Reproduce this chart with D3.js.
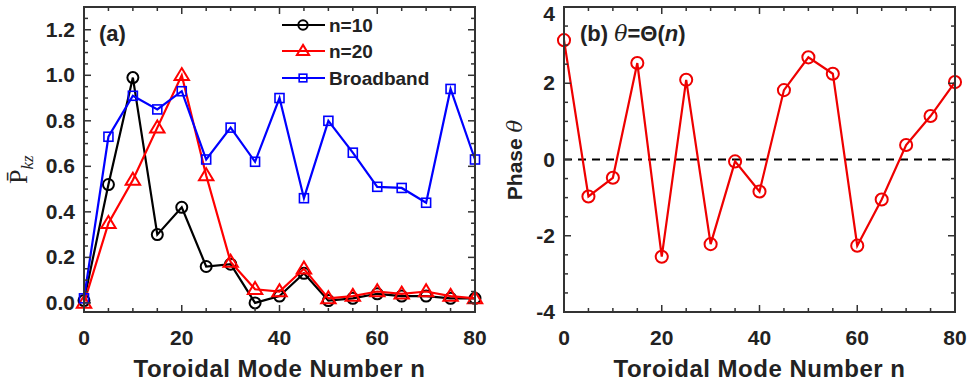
<!DOCTYPE html>
<html>
<head>
<meta charset="utf-8">
<script src="https://cdn.jsdelivr.net/npm/d3@7"></script>
<style>
  body { margin: 0; background: #fff; }
  svg { display: block; }
  text { font-family: "Liberation Sans", Arial, sans-serif; font-weight: bold; fill: #222; }
</style>
</head>
<body>
<div id="chart"></div>
<script>
// toroidal mode numbers
var modeN = [0, 5, 10, 15, 20, 25, 30, 35, 40, 45, 50, 55, 60, 65, 70, 75, 80];

// panel (a) normalised power
var pN10 = [0.01, 0.52, 0.99, 0.30, 0.42, 0.16, 0.17, 0.00, 0.03, 0.13, 0.01, 0.02, 0.04, 0.03, 0.03, 0.02, 0.02];
var pN20 = [0.00, 0.35, 0.54, 0.77, 1.00, 0.56, 0.18, 0.06, 0.05, 0.15, 0.02, 0.03, 0.05, 0.04, 0.05, 0.03, 0.02];
var pBroad = [0.02, 0.73, 0.91, 0.85, 0.93, 0.63, 0.77, 0.62, 0.90, 0.46, 0.80, 0.66, 0.51, 0.505, 0.44, 0.94, 0.63];

// panel (b) phase
var phase = [3.13, -0.97, -0.48, 2.53, -2.55, 2.09, -2.22, -0.05, -0.84, 1.82, 2.68, 2.25, -2.26, -1.05, 0.38, 1.14, 2.03];

var xTicks = [0, 20, 40, 60, 80];
var yTicksA = [0, 0.2, 0.4, 0.6, 0.8, 1.0, 1.2];
var yTicksB = [-4, -2, 0, 2, 4];

var width = 969, height = 390;
var axisColor = "#333";

var svg = d3.select("#chart").append("svg")
    .attr("width", width)
    .attr("height", height);

function drawFrame(g, x, y, yTicks, yMinor, yFmt) {
    var x0 = x.range()[0], x1 = x.range()[1],
        y0 = y.range()[0], y1 = y.range()[1];
    var xMinor = d3.range(0, 81, 5);

    // tick marks, inside, mirrored on all sides
    xMinor.forEach(function(v) {
        var len = xTicks.indexOf(v) >= 0 ? 7 : 4;
        g.append("line").attr("x1", x(v)).attr("x2", x(v)).attr("y1", y0).attr("y2", y0 - len)
            .attr("stroke", axisColor).attr("stroke-width", 1.5);
        g.append("line").attr("x1", x(v)).attr("x2", x(v)).attr("y1", y1).attr("y2", y1 + len)
            .attr("stroke", axisColor).attr("stroke-width", 1.5);
    });
    yMinor.forEach(function(v) {
        var major = yTicks.some(function(t) { return Math.abs(t - v) < 1e-6; });
        var len = major ? 7 : 4;
        g.append("line").attr("x1", x0).attr("x2", x0 + len).attr("y1", y(v)).attr("y2", y(v))
            .attr("stroke", axisColor).attr("stroke-width", 1.5);
        g.append("line").attr("x1", x1).attr("x2", x1 - len).attr("y1", y(v)).attr("y2", y(v))
            .attr("stroke", axisColor).attr("stroke-width", 1.5);
    });

    g.append("rect")
        .attr("x", x0).attr("y", y1)
        .attr("width", x1 - x0).attr("height", y0 - y1)
        .attr("fill", "none").attr("stroke", axisColor).attr("stroke-width", 2);

    g.selectAll(".xlab").data(xTicks).enter().append("text")
        .attr("x", function(d) { return x(d); })
        .attr("y", 345)
        .attr("text-anchor", "middle")
        .style("font-size", "21px")
        .text(function(d) { return d; });

    g.selectAll(".ylab").data(yTicks).enter().append("text")
        .attr("x", x0 - 9)
        .attr("y", function(d) { return Math.max(y(d) + 7, 21); })
        .attr("text-anchor", "end")
        .style("font-size", "21px")
        .text(yFmt);

    g.append("text")
        .attr("x", (x0 + x1) / 2)
        .attr("y", 377)
        .attr("text-anchor", "middle")
        .style("font-size", "24px")
        .style("letter-spacing", "0.5px")
        .text("Toroidal Mode Number n");
}

// ---------- panel (a) ----------
var xa = d3.scaleLinear().domain([0, 80]).range([84, 475]);
var ya = d3.scaleLinear().domain([-0.04, 1.3]).range([312, 7]);
var ga = svg.append("g");

var seriesA = [
    { name: "n=10", vals: pN10, color: "#000", marker: "circle" },
    { name: "n=20", vals: pN20, color: "#f00", marker: "triangle" },
    { name: "Broadband", vals: pBroad, color: "#00f", marker: "square" }
];

var lineA = d3.line()
    .x(function(d, i) { return xa(modeN[i]); })
    .y(function(d) { return ya(d); });

function drawMarker(g, type, cx, cy, color, s) {
    if (type === "circle") {
        g.append("circle").attr("cx", cx).attr("cy", cy).attr("r", 5.5 * s)
            .attr("fill", "none").attr("stroke", color).attr("stroke-width", 2);
    } else if (type === "triangle") {
        var h = 12 * s;
        g.append("path")
            .attr("d", "M" + cx + "," + (cy - h * 0.6) + "L" + (cx + h * 0.6) + "," + (cy + h * 0.4) +
                "L" + (cx - h * 0.6) + "," + (cy + h * 0.4) + "Z")
            .attr("fill", "none").attr("stroke", color).attr("stroke-width", 2);
    } else {
        var a = 9 * s;
        g.append("rect").attr("x", cx - a / 2).attr("y", cy - a / 2).attr("width", a).attr("height", a)
            .attr("fill", "none").attr("stroke", color).attr("stroke-width", 1.6);
    }
}

seriesA.forEach(function(s) {
    ga.append("path")
        .datum(s.vals)
        .attr("d", lineA)
        .attr("fill", "none")
        .attr("stroke", s.color)
        .attr("stroke-width", 2.2);
    s.vals.forEach(function(v, i) {
        drawMarker(ga, s.marker, xa(modeN[i]), ya(v), s.color, 1);
    });
});

drawFrame(ga, xa, ya, yTicksA, d3.range(0, 1.3001, 0.05).map(function(v) { return +v.toFixed(2); }),
    function(d) { return d.toFixed(1); });

// legend
var legRows = [25, 51, 78];
seriesA.forEach(function(s, i) {
    var ly = legRows[i];
    ga.append("line").attr("x1", 282).attr("x2", 325).attr("y1", ly).attr("y2", ly)
        .attr("stroke", s.color).attr("stroke-width", 2.2);
    drawMarker(ga, s.marker, 303, ly, s.color, 0.85);
    ga.append("text").attr("x", 329).attr("y", ly + 7)
        .style("font-size", "19px").text(s.name);
});

ga.append("text").attr("x", 99).attr("y", 41).style("font-size", "22px").text("(a)");

// y label P̄kz
var yl = ga.append("text")
    .attr("transform", "translate(27,184) rotate(-90)")
    .style("font-family", "'Liberation Serif', 'DejaVu Serif', serif")
    .style("font-weight", "normal")
    .style("font-size", "26px");
yl.append("tspan").text("P\u0304");
yl.append("tspan").attr("dy", 6).style("font-size", "17px").style("font-style", "italic").text("kz");

// ---------- panel (b) ----------
var xb = d3.scaleLinear().domain([0, 80]).range([564, 955]);
var yb = d3.scaleLinear().domain([-4, 4]).range([312, 7]);
var gb = svg.append("g");

gb.append("line")
    .attr("x1", xb(0)).attr("x2", xb(80))
    .attr("y1", yb(0)).attr("y2", yb(0))
    .attr("stroke", "#000").attr("stroke-width", 2.2)
    .attr("stroke-dasharray", "8,6");

var lineB = d3.line()
    .x(function(d, i) { return xb(modeN[i]); })
    .y(function(d) { return yb(d); });

gb.append("path")
    .datum(phase)
    .attr("d", lineB)
    .attr("fill", "none")
    .attr("stroke", "#e00")
    .attr("stroke-width", 2.2);

phase.forEach(function(v, i) {
    drawMarker(gb, "circle", xb(modeN[i]), yb(v), "#e00", 1.1);
});

drawFrame(gb, xb, yb, yTicksB, d3.range(-4, 4.001, 0.5), function(d) { return d; });

var tb = gb.append("text").attr("x", 580).attr("y", 41).style("font-size", "22px");
tb.append("tspan").text("(b)  ");
tb.append("tspan").style("font-style", "italic").style("font-weight", "normal")
    .style("font-family", "'DejaVu Serif', serif").text("\u03b8");
tb.append("tspan").text("=\u0398(");
tb.append("tspan").style("font-style", "italic").text("n");
tb.append("tspan").text(")");

var ylb = gb.append("text")
    .attr("transform", "translate(522,160) rotate(-90)")
    .attr("text-anchor", "middle")
    .style("font-size", "21px");
ylb.append("tspan").text("Phase ");
ylb.append("tspan").style("font-style", "italic").style("font-weight", "normal")
    .style("font-family", "'DejaVu Serif', serif").text("\u03b8");
</script>
</body>
</html>
